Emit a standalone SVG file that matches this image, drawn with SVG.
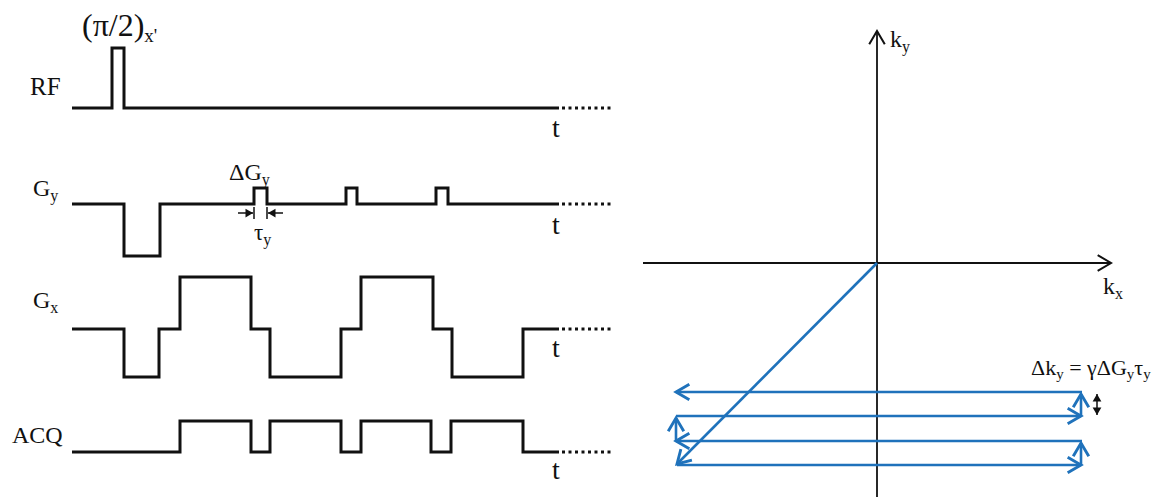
<svg xmlns="http://www.w3.org/2000/svg" width="1169" height="497" viewBox="0 0 1169 497">
<style>
text{font-family:"Liberation Serif","Times New Roman",serif;fill:#111}
.w{fill:none;stroke:#111;stroke-width:3;stroke-linejoin:miter}
.dot{fill:none;stroke:#111;stroke-width:3;stroke-dasharray:3 3.5}
.ax{fill:none;stroke:#111;stroke-width:1.8}
.tr{fill:none;stroke:#1f72bb;stroke-width:2.6}
.lab{font-size:25px}
.t{font-size:28px}
</style>
<defs>
<marker id="chevB" markerUnits="userSpaceOnUse" markerWidth="20" markerHeight="20" viewBox="-14 -9 16 18" refX="0" refY="0" orient="auto">
<path d="M-12,-7 L0,0 L-12,7" fill="none" stroke="#1f72bb" stroke-width="2.6"/>
</marker>
<marker id="chevK" markerUnits="userSpaceOnUse" markerWidth="20" markerHeight="20" viewBox="-14 -9 16 18" refX="0" refY="0" orient="auto">
<path d="M-12,-7 L0,0 L-12,7" fill="none" stroke="#111" stroke-width="1.8"/>
</marker>
<marker id="triK" markerUnits="userSpaceOnUse" markerWidth="10" markerHeight="10" viewBox="-7 -4 8 8" refX="0" refY="0" orient="auto">
<path d="M-6,-3.5 L0,0 L-6,3.5 Z" fill="#111"/>
</marker>
</defs>

<g id="rf">
<text x="82" y="36" style="font-size:32px">(π/2)<tspan dy="6" style="font-size:19px">x'</tspan></text>
<text class="lab" x="30" y="95">RF</text>
<path class="w" d="M72,108 H112 V48 H124 V108 H559"/>
<path class="dot" d="M562,108 H612"/>
<text class="t" x="552" y="137">t</text>
</g>

<g id="gy">
<text x="33" y="196" style="font-size:24px">G<tspan dy="5" style="font-size:16px">y</tspan></text>
<path class="w" d="M72,204 H124 V256 H160 V204 H254 V188 H267 V204 H346 V188 H357 V204 H436 V188 H448 V204 H559"/>
<path class="dot" d="M562,204 H612"/>
<text class="t" x="552" y="234">t</text>
<text x="229" y="180" style="font-size:24px">ΔG<tspan dy="5" style="font-size:16px">y</tspan></text>
<path class="w" style="stroke-width:1.5" d="M238,213 H253" marker-end="url(#triK)"/>
<path class="w" style="stroke-width:1.5" d="M283,213 H268" marker-end="url(#triK)"/>
<path class="w" style="stroke-width:1.5" d="M254,207 V219 M267,207 V219"/>
<text x="254" y="240" style="font-size:23px">τ<tspan dy="5" style="font-size:16px">y</tspan></text>
</g>

<g id="gx">
<text x="33" y="308" style="font-size:24px">G<tspan dy="5" style="font-size:16px">x</tspan></text>
<path class="w" d="M72,329 H124 V377 H159 V329 H180 V277 H251 V329 H270 V377 H341 V329 H361 V277 H433 V329 H452 V377 H523 V329 H559"/>
<path class="dot" d="M562,329 H612"/>
<text class="t" x="552" y="357">t</text>
</g>

<g id="acq">
<text x="12" y="443" style="font-size:24px">ACQ</text>
<path class="w" d="M72,452 H180 V421 H251 V452 H270 V421 H341 V452 H361 V421 H431 V452 H451 V421 H523 V452 H559"/>
<path class="dot" d="M562,452 H612"/>
<text class="t" x="552" y="479">t</text>
</g>

<g id="kspace-axes">
<path class="ax" d="M877,497 V31" marker-end="url(#chevK)"/>
<path class="ax" d="M643,263 H1111" marker-end="url(#chevK)"/>
<text x="890" y="47" style="font-size:24px">k<tspan dy="5" style="font-size:16px">y</tspan></text>
<text x="1103" y="294" style="font-size:24px">k<tspan dy="5" style="font-size:16px">x</tspan></text>
<text x="1031" y="375" style="font-size:22px">Δk<tspan dy="4" style="font-size:15px">y</tspan><tspan dy="-4"> = γΔG</tspan><tspan dy="4" style="font-size:15px">y</tspan><tspan dy="-4">τ</tspan><tspan dy="4" style="font-size:15px">y</tspan></text>
<path class="ax" style="stroke-width:1.5" d="M1097,404 V394" marker-end="url(#triK)"/>
<path class="ax" style="stroke-width:1.5" d="M1097,404 V415" marker-end="url(#triK)"/>
</g>

<g id="connectors">
<path class="tr" d="M877,263 L677,464" marker-end="url(#chevB)"/>
<path class="tr" d="M677,465 H1081" marker-end="url(#chevB)"/>
<path class="tr" d="M1081,465 V443" marker-end="url(#chevB)"/>
<path class="tr" d="M1082,441 H676" marker-end="url(#chevB)"/>
<path class="tr" d="M676,441 V418" marker-end="url(#chevB)"/>
<path class="tr" d="M676,416 H1081" marker-end="url(#chevB)"/>
<path class="tr" d="M1081,416 V394" marker-end="url(#chevB)"/>
<path class="tr" d="M1082,392 H676" marker-end="url(#chevB)"/>
</g>
</svg>
